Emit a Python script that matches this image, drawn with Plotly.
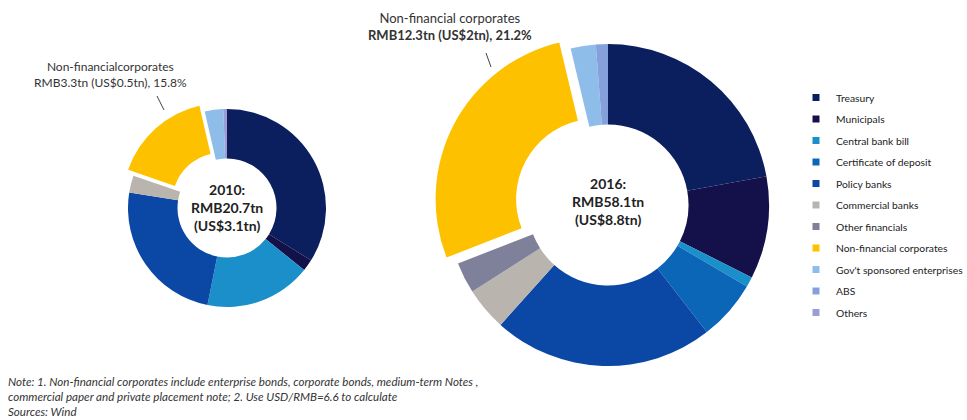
import plotly.graph_objects as go

W, H = 967, 420

categories = ["Treasury", "Municipals", "Central bank bill", "Certificate of deposit",
              "Policy banks", "Commercial banks", "Other financials",
              "Non-financial corporates", "Gov't sponsored enterprises", "ABS", "Others"]
colors = ["#0b1f5e", "#14104a", "#1b8fca", "#0b66b8", "#0b47a5", "#b9b5ae",
          "#7f8099", "#fdc100", "#8dbde8", "#86a0dc", "#9b9dd6"]
share_2010 = [33.7, 1.9, 17.3, 0, 24.2, 2.8, 0, 16.0, 3.0, 0, 0.6]
share_2016 = [22.0, 10.2, 1.0, 6.0, 22.0, 4.3, 3.1, 27.0, 2.5, 1.2, 0]
pull_list = [0.08 if c == "Non-financial corporates" else 0 for c in categories]

center_2010 = "<b>2010:<br>RMB20.7tn<br>(US$3.1tn)</b>"
center_2016 = "<b>2016:<br>RMB58.1tn<br>(US$8.8tn)</b>"
label_2010 = "Non-financialcorporates<br>RMB3.3tn (US$0.5tn), 15.8%"
label_2016 = "Non-financial corporates<br><b>RMB12.3tn (US$2tn), 21.2%</b>"
note_text = ("<i>Note: 1. Non-financial corporates include enterprise bonds, corporate bonds, medium-term Notes ,<br>"
             "commercial paper and private placement note; 2. Use USD/RMB=6.6 to calculate<br>"
             "Sources: Wind</i>")

FONT = "Lato, 'Open Sans', sans-serif"


def dom(cx, cy, r, pull):
    R = r * (1 + pull)
    return dict(x=[(cx - R) / W, (cx + R) / W], y=[(H - cy - R) / H, (H - cy + R) / H])


fig = go.Figure()
fig.add_trace(go.Pie(labels=categories, values=share_2010, marker=dict(colors=colors, line=dict(width=0)),
                     hole=0.5, sort=False, direction="clockwise", rotation=0, pull=pull_list,
                     textinfo="none", showlegend=False, domain=dom(227, 208, 99, 0.08)))
fig.add_trace(go.Pie(labels=categories, values=share_2016, marker=dict(colors=colors, line=dict(width=0)),
                     hole=0.5, sort=False, direction="clockwise", rotation=0, pull=pull_list,
                     textinfo="none", showlegend=False, domain=dom(608, 205, 161, 0.08)))

for c, col in zip(categories, colors):
    fig.add_trace(go.Scatter(x=[None], y=[None], mode="markers", name=c, legendgroup=c,
                             marker=dict(symbol="square", size=7, color=col), showlegend=True))


def note(x, y, text, size, color="#222", **kw):
    d = dict(xref="paper", yref="paper", x=x / W, y=1 - y / H, xanchor="center", yanchor="middle",
             text=text, showarrow=False, font=dict(size=size, color=color, family=FONT))
    d.update(kw)
    return d


ann = [
    note(227, 207, center_2010, 14),
    note(608, 201, center_2016, 14),
    note(110, 74, label_2010, 12, "#333"),
    note(450, 27, label_2016, 13, "#333"),
    note(6, 373, note_text, 11.6, "#333", xanchor="left", yanchor="top", align="left"),
]

shapes = [
    dict(type="line", xref="paper", yref="paper", x0=157 / W, y0=1 - 96 / H, x1=164 / W, y1=1 - 110 / H,
         line=dict(color="#444", width=1)),
    dict(type="line", xref="paper", yref="paper", x0=486 / W, y0=1 - 53 / H, x1=491 / W, y1=1 - 67 / H,
         line=dict(color="#444", width=1)),
]

fig.update_layout(
    width=W, height=H, margin=dict(l=0, r=0, t=0, b=0, autoexpand=False),
    paper_bgcolor="white", plot_bgcolor="white",
    xaxis=dict(visible=False), yaxis=dict(visible=False),
    annotations=ann, shapes=shapes,
    legend=dict(x=796 / W, y=1 - 83 / H, xanchor="left", yanchor="top", traceorder="grouped",
                tracegroupgap=2.5, itemwidth=30, bgcolor="rgba(0,0,0,0)",
                font=dict(size=10.3, color="#222", family=FONT)),
    font=dict(family=FONT),
)

fig.write_html("out.html", config={"displayModeBar": False},
               post_script="document.body.style.margin='0';document.body.style.padding='0';")
